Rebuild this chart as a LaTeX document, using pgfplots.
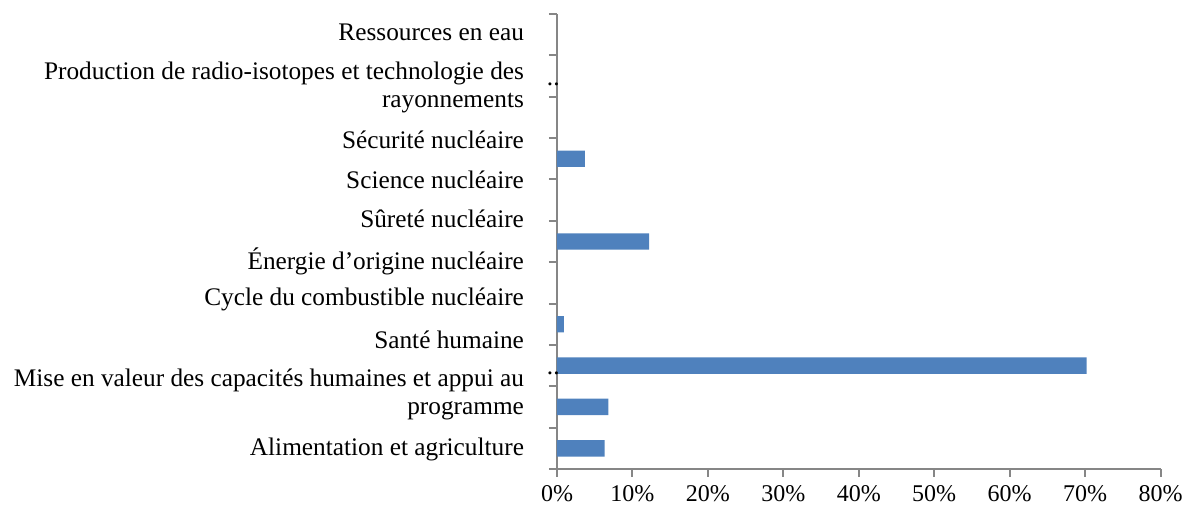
\documentclass[border=0pt]{standalone}
\usepackage{fontspec}
\setmainfont{Liberation Serif}
\usepackage{pgfplots}
\pgfplotsset{compat=1.18}
\definecolor{barblue}{HTML}{4F81BD}
\definecolor{axgray}{HTML}{868686}
\begin{document}
\begin{tikzpicture}
\path[use as bounding box] (-278.5pt,-18.5pt) rectangle (314.5pt,234.5pt);
\begin{axis}[
  at={(0,0)}, anchor=south west,
  scale only axis, width=301.75pt, height=227.5pt,
  xmin=0, xmax=80, ymin=-0.5, ymax=10.5,
  axis lines=left,
  axis line style={-, draw=axgray, line width=1pt},
  xtick={0,10,...,80},
  xticklabels={0\%,10\%,20\%,30\%,40\%,50\%,60\%,70\%,80\%},
  xticklabel style={font=\fontsize{12}{13}\selectfont, yshift=-4.5pt},
  minor xtick={0,10,...,80},
  ytick={-0.02,1.31,2.63,3.59,4.52,5.56,6.49,7.45,8.72,10.06},
  yticklabels={Alimentation et agriculture,
    {Mise en valeur des capacités humaines et appui au\\programme},
    Santé humaine,
    Cycle du combustible nucléaire,
    Énergie d’origine nucléaire,
    Sûreté nucléaire,
    Science nucléaire,
    Sécurité nucléaire,
    {Production de radio-isotopes et technologie des\\rayonnements},
    Ressources en eau},
  yticklabel style={font=\fontsize{12.65}{14}\selectfont, align=right, xshift=-13pt},
  minor ytick={-0.5,0.5,...,10.5},
  tick align=outside,
  major tick length=0pt,
  minor tick length=4pt,
  minor tick style={draw=axgray, line width=1pt},
  clip=false,
]
\addplot[xbar, bar width=8.2pt, fill=barblue, draw=none]
  coordinates {(6.3,0) (6.8,1) (70.2,2) (0.9,3) (12.2,5) (3.7,7)};
\node[anchor=east, inner sep=0pt, xshift=1.5pt, font=\fontsize{12.65}{14}\selectfont] at (axis cs:0,8.81) {..};
\node[anchor=east, inner sep=0pt, xshift=1.5pt, font=\fontsize{12.65}{14}\selectfont] at (axis cs:0,1.80) {..};
\end{axis}
\end{tikzpicture}
\end{document}
